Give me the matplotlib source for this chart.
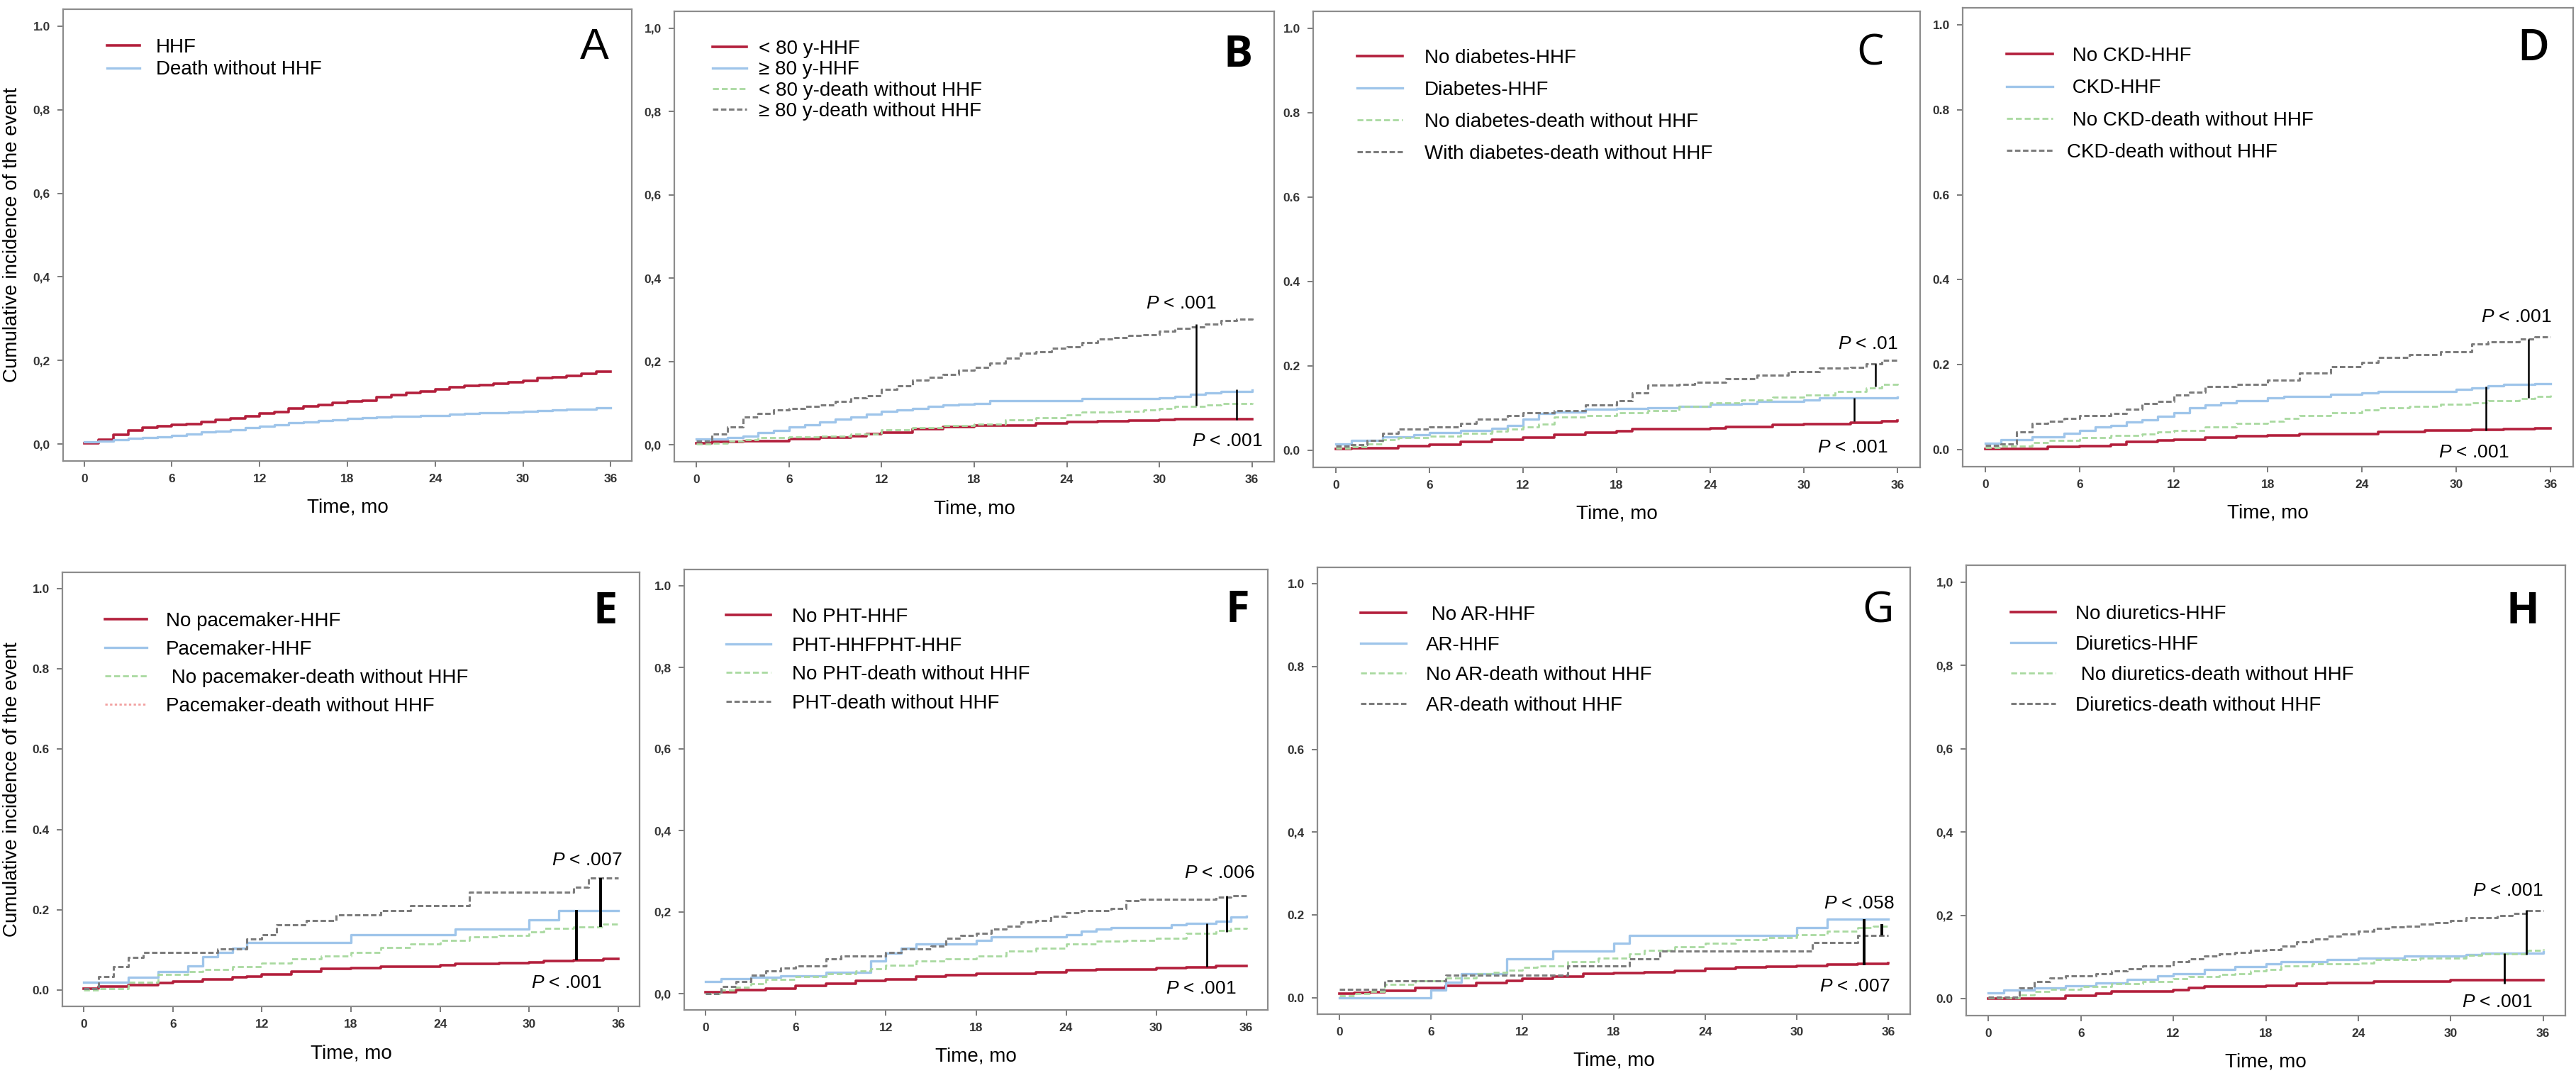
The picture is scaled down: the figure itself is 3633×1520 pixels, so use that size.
import matplotlib
matplotlib.use('Agg')
import matplotlib.pyplot as plt
from matplotlib.lines import Line2D

plt.rcParams['font.family'] = ['Liberation Sans', 'DejaVu Sans']
plt.rcParams['mathtext.fontset'] = 'custom'
plt.rcParams['mathtext.it'] = 'Liberation Sans:italic'
plt.rcParams['mathtext.rm'] = 'Liberation Sans'

# ---------------- data (months, cumulative incidence) ----------------
months = list(range(37))

# A
a_hhf_t = months
a_hhf_y = [0.002, 0.011, 0.022, 0.033, 0.040, 0.043, 0.046, 0.048, 0.053, 0.058, 0.062, 0.066, 0.073,
           0.077, 0.086, 0.090, 0.094, 0.099, 0.102, 0.104, 0.113, 0.117, 0.122, 0.127, 0.131, 0.136,
           0.140, 0.142, 0.145, 0.149, 0.152, 0.158, 0.160, 0.164, 0.168, 0.173, 0.174]
a_death_t = months
a_death_y = [0.006, 0.008, 0.011, 0.014, 0.016, 0.018, 0.021, 0.025, 0.030, 0.032, 0.035, 0.039, 0.043,
             0.047, 0.051, 0.054, 0.057, 0.059, 0.061, 0.063, 0.065, 0.066, 0.067, 0.068, 0.069, 0.072,
             0.074, 0.075, 0.076, 0.077, 0.079, 0.081, 0.082, 0.083, 0.084, 0.087, 0.088]

# B
b_red_t = [0, 1, 3, 6, 8, 10, 11, 12, 14, 16, 18, 22, 24, 26, 28, 30, 31, 36]
b_red_y = [0.005, 0.007, 0.010, 0.014, 0.018, 0.022, 0.026, 0.030, 0.039, 0.043, 0.047, 0.051, 0.055,
           0.057, 0.059, 0.061, 0.062, 0.062]
b_blue_t = [0, 2, 3, 4, 5, 6, 7, 8, 9, 10, 11, 12, 13, 14, 15, 16, 17, 18, 19, 25, 30, 31, 32, 33, 34, 36]
b_blue_y = [0.015, 0.018, 0.022, 0.029, 0.035, 0.043, 0.049, 0.055, 0.062, 0.068, 0.074, 0.080, 0.084,
            0.088, 0.092, 0.096, 0.098, 0.100, 0.106, 0.111, 0.113, 0.117, 0.121, 0.125, 0.129, 0.131]
b_green_t = [0, 1, 2, 3, 4, 6, 8, 10, 12, 14, 16, 18, 20, 22, 24, 25, 27, 29, 30, 31, 33, 34, 36]
b_green_y = [0.002, 0.005, 0.010, 0.013, 0.017, 0.019, 0.022, 0.027, 0.037, 0.041, 0.047, 0.050, 0.060,
             0.066, 0.072, 0.079, 0.081, 0.084, 0.088, 0.092, 0.096, 0.100, 0.101]
b_gray_t = months
b_gray_y = [0.010, 0.026, 0.043, 0.068, 0.076, 0.084, 0.088, 0.092, 0.096, 0.105, 0.113, 0.119, 0.133,
            0.142, 0.156, 0.162, 0.169, 0.179, 0.187, 0.197, 0.208, 0.220, 0.224, 0.232, 0.236, 0.246,
            0.254, 0.257, 0.263, 0.265, 0.273, 0.279, 0.284, 0.290, 0.298, 0.302, 0.305]

# C
c_red_t = [0, 1, 2, 4, 6, 8, 10, 12, 14, 16, 18, 19, 24, 25, 28, 30, 33, 35, 36]
c_red_y = [0.003, 0.005, 0.006, 0.010, 0.014, 0.020, 0.026, 0.030, 0.037, 0.042, 0.046, 0.050, 0.052,
           0.056, 0.060, 0.062, 0.066, 0.070, 0.071]
c_blue_t = [0, 1, 3, 5, 6, 8, 10, 11, 12, 13, 14, 16, 18, 20, 22, 24, 26, 27, 30, 31, 36]
c_blue_y = [0.015, 0.024, 0.032, 0.038, 0.042, 0.048, 0.053, 0.059, 0.075, 0.087, 0.091, 0.097, 0.099,
            0.101, 0.104, 0.110, 0.112, 0.116, 0.120, 0.124, 0.126]
c_green_t = [0, 1, 2, 3, 4, 6, 8, 10, 11, 12, 13, 14, 16, 18, 20, 22, 24, 26, 28, 30, 32, 34, 35, 36]
c_green_y = [0.005, 0.008, 0.015, 0.025, 0.030, 0.034, 0.040, 0.045, 0.050, 0.055, 0.063, 0.079, 0.083,
             0.089, 0.094, 0.104, 0.113, 0.120, 0.126, 0.132, 0.140, 0.148, 0.156, 0.160]
c_gray_t = [0, 1, 2, 3, 4, 6, 8, 9, 11, 12, 14, 16, 18, 19, 20, 22, 23, 25, 27, 29, 31, 33, 34, 35, 36]
c_gray_y = [0.010, 0.013, 0.024, 0.040, 0.050, 0.056, 0.064, 0.075, 0.083, 0.089, 0.095, 0.108, 0.118,
            0.136, 0.154, 0.156, 0.162, 0.170, 0.178, 0.187, 0.195, 0.197, 0.205, 0.214, 0.214]

# D
d_red_t = [0, 4, 6, 8, 9, 11, 12, 14, 16, 18, 20, 25, 28, 31, 33, 35, 36]
d_red_y = [0.002, 0.006, 0.008, 0.012, 0.018, 0.022, 0.024, 0.028, 0.032, 0.034, 0.037, 0.041, 0.045,
           0.046, 0.049, 0.050, 0.050]
d_blue_t = [0, 1, 3, 5, 6, 7, 8, 9, 10, 11, 12, 13, 14, 15, 16, 18, 19, 22, 24, 25, 30, 31, 32, 33, 35, 36]
d_blue_y = [0.015, 0.024, 0.030, 0.038, 0.045, 0.053, 0.057, 0.065, 0.071, 0.079, 0.087, 0.098, 0.106,
            0.111, 0.116, 0.122, 0.126, 0.130, 0.134, 0.137, 0.142, 0.146, 0.150, 0.153, 0.156, 0.156]
d_green_t = [0, 1, 3, 4, 6, 8, 10, 11, 12, 14, 16, 18, 19, 20, 22, 24, 25, 27, 29, 31, 32, 34, 35, 36]
d_green_y = [0.005, 0.008, 0.016, 0.022, 0.028, 0.033, 0.037, 0.041, 0.045, 0.053, 0.061, 0.067, 0.073,
             0.081, 0.087, 0.093, 0.098, 0.102, 0.107, 0.110, 0.115, 0.120, 0.126, 0.128]
d_gray_t = [0, 1, 2, 3, 4, 5, 6, 8, 9, 10, 11, 12, 13, 14, 16, 18, 20, 22, 24, 25, 27, 29, 31, 32, 34, 35, 36]
d_gray_y = [0.010, 0.014, 0.041, 0.061, 0.067, 0.073, 0.081, 0.085, 0.095, 0.108, 0.114, 0.128, 0.136,
            0.149, 0.154, 0.163, 0.181, 0.195, 0.206, 0.217, 0.224, 0.230, 0.248, 0.254, 0.260, 0.266, 0.266]

# E
e_red_t = [0, 1, 3, 5, 6, 8, 10, 11, 12, 14, 16, 18, 20, 24, 25, 28, 30, 31, 33, 35, 36]
e_red_y = [0.005, 0.010, 0.013, 0.019, 0.021, 0.027, 0.032, 0.034, 0.039, 0.047, 0.053, 0.056, 0.058,
           0.062, 0.066, 0.067, 0.070, 0.073, 0.075, 0.079, 0.079]
e_blue_t = [0, 3, 5, 7, 8, 9, 10, 11, 18, 25, 30, 32, 36]
e_blue_y = [0.020, 0.032, 0.047, 0.060, 0.084, 0.094, 0.104, 0.118, 0.139, 0.152, 0.176, 0.199, 0.199]
e_green_t = [0, 1, 3, 5, 7, 8, 10, 12, 14, 16, 18, 20, 22, 24, 26, 28, 30, 31, 33, 35, 36]
e_green_y = [0.000, 0.005, 0.020, 0.039, 0.047, 0.051, 0.058, 0.067, 0.079, 0.086, 0.094, 0.107, 0.116,
             0.124, 0.133, 0.137, 0.146, 0.154, 0.158, 0.164, 0.166]
e_gray_t = [0, 1, 2, 3, 4, 9, 11, 12, 13, 15, 17, 20, 22, 26, 33, 34, 36]
e_gray_y = [0.005, 0.034, 0.058, 0.081, 0.094, 0.103, 0.128, 0.139, 0.163, 0.173, 0.187, 0.199, 0.210,
            0.245, 0.257, 0.279, 0.279]

# F
f_red_t = [0, 2, 4, 6, 8, 10, 12, 14, 16, 18, 22, 24, 26, 30, 32, 34, 36]
f_red_y = [0.003, 0.008, 0.013, 0.019, 0.025, 0.031, 0.035, 0.042, 0.046, 0.049, 0.052, 0.057, 0.059,
           0.063, 0.065, 0.068, 0.068]
f_blue_t = [0, 1, 3, 5, 8, 11, 12, 13, 14, 18, 19, 24, 25, 26, 27, 31, 32, 34, 35, 36]
f_blue_y = [0.030, 0.036, 0.040, 0.044, 0.052, 0.080, 0.099, 0.111, 0.122, 0.131, 0.139, 0.145, 0.153,
            0.158, 0.162, 0.169, 0.173, 0.177, 0.187, 0.190]
f_green_t = [0, 1, 2, 3, 4, 6, 8, 10, 11, 12, 14, 16, 18, 20, 22, 24, 26, 28, 30, 32, 34, 35, 36]
f_green_y = [0.000, 0.008, 0.015, 0.025, 0.034, 0.042, 0.049, 0.055, 0.061, 0.069, 0.080, 0.086, 0.093,
             0.105, 0.111, 0.122, 0.128, 0.131, 0.135, 0.148, 0.154, 0.160, 0.162]
f_gray_t = [0, 1, 2, 3, 4, 5, 6, 8, 9, 12, 13, 15, 16, 17, 18, 19, 20, 21, 22, 23, 24, 25, 27, 28, 29, 34, 35, 36]
f_gray_y = [0.000, 0.017, 0.030, 0.046, 0.055, 0.063, 0.068, 0.086, 0.093, 0.101, 0.110, 0.116, 0.135,
            0.142, 0.148, 0.159, 0.165, 0.176, 0.179, 0.190, 0.198, 0.204, 0.208, 0.228, 0.232, 0.236,
            0.240, 0.240]

# G
g_red_t = [0, 1, 2, 3, 5, 7, 9, 11, 12, 14, 16, 18, 20, 22, 24, 26, 28, 30, 32, 34, 36]
g_red_y = [0.010, 0.012, 0.014, 0.017, 0.023, 0.029, 0.036, 0.040, 0.046, 0.051, 0.057, 0.059, 0.062,
           0.065, 0.069, 0.073, 0.075, 0.077, 0.080, 0.081, 0.083]
g_blue_t = [0, 6, 7, 8, 11, 14, 18, 19, 30, 32, 36]
g_blue_y = [0.000, 0.019, 0.038, 0.057, 0.094, 0.112, 0.131, 0.150, 0.169, 0.189, 0.189]
g_green_t = [0, 1, 2, 3, 5, 7, 9, 10, 11, 12, 13, 15, 17, 19, 20, 22, 24, 26, 28, 30, 32, 34, 35, 36]
g_green_y = [0.005, 0.010, 0.015, 0.032, 0.040, 0.048, 0.057, 0.062, 0.067, 0.073, 0.077, 0.087, 0.096,
             0.106, 0.115, 0.123, 0.131, 0.140, 0.145, 0.152, 0.160, 0.169, 0.173, 0.178]
g_gray_t = [0, 3, 7, 15, 19, 21, 31, 34, 36]
g_gray_y = [0.020, 0.040, 0.055, 0.077, 0.094, 0.112, 0.134, 0.150, 0.150]

# H
h_red_t = [0, 5, 7, 8, 12, 13, 14, 18, 20, 22, 25, 30, 36]
h_red_y = [0.000, 0.007, 0.012, 0.017, 0.022, 0.026, 0.030, 0.032, 0.036, 0.038, 0.042, 0.045, 0.045]
h_blue_t = [0, 1, 3, 5, 7, 9, 11, 12, 14, 16, 18, 19, 22, 24, 27, 31, 32, 36]
h_blue_y = [0.015, 0.022, 0.027, 0.032, 0.038, 0.046, 0.055, 0.061, 0.071, 0.078, 0.084, 0.089, 0.094,
            0.098, 0.103, 0.106, 0.110, 0.113]
h_green_t = [0, 2, 3, 4, 6, 8, 10, 12, 13, 15, 16, 17, 18, 19, 21, 24, 25, 28, 31, 32, 35, 36]
h_green_y = [0.003, 0.009, 0.017, 0.023, 0.030, 0.036, 0.042, 0.048, 0.053, 0.059, 0.061, 0.067, 0.071,
             0.079, 0.084, 0.086, 0.094, 0.098, 0.104, 0.108, 0.117, 0.120]
h_gray_t = [0, 2, 3, 4, 5, 7, 8, 9, 10, 12, 13, 14, 15, 16, 17, 18, 19, 20, 21, 22, 23, 24, 25, 26, 27,
            28, 29, 30, 31, 33, 34, 35, 36]
h_gray_y = [0.005, 0.026, 0.042, 0.050, 0.056, 0.061, 0.067, 0.073, 0.079, 0.089, 0.096, 0.103, 0.108,
            0.112, 0.117, 0.119, 0.127, 0.137, 0.144, 0.150, 0.156, 0.162, 0.169, 0.172, 0.174, 0.179,
            0.183, 0.188, 0.195, 0.199, 0.205, 0.212, 0.212]

# legend labels
labels_a = ['HHF', 'Death without HHF']
labels_b = ['< 80 y-HHF', '\u2265 80 y-HHF', '< 80 y-death without HHF', '\u2265 80 y-death without HHF']
labels_c = ['No diabetes-HHF', 'Diabetes-HHF', 'No diabetes-death without HHF', 'With diabetes-death without HHF']
labels_d = [' No CKD-HHF', ' CKD-HHF', ' No CKD-death without HHF', 'CKD-death without HHF']
labels_e = ['No pacemaker-HHF', 'Pacemaker-HHF', ' No pacemaker-death without HHF', 'Pacemaker-death without HHF']
labels_f = ['No PHT-HHF', 'PHT-HHFPHT-HHF', 'No PHT-death without HHF', 'PHT-death without HHF']
labels_g = [' No AR-HHF', 'AR-HHF', 'No AR-death without HHF', 'AR-death without HHF']
labels_h = ['No diuretics-HHF', 'Diuretics-HHF', ' No diuretics-death without HHF', 'Diuretics-death without HHF']

# P-value brackets: (month, top, bottom) and labels: (month, y, text)
p_lines_b = [(32.4, 0.290, 0.095), (35.0, 0.133, 0.060)]
p_text_b = [(31.4, 0.339, '.001'), (34.4, 0.010, '.001')]
p_lines_c = [(34.6, 0.205, 0.152), (33.2, 0.124, 0.070)]
p_text_c = [(34.1, 0.252, '.01'), (33.1, 0.007, '.001')]
p_lines_d = [(34.6, 0.260, 0.122), (31.9, 0.148, 0.045)]
p_text_d = [(33.8, 0.313, '.001'), (31.1, -0.006, '.001')]
p_lines_e = [(34.8, 0.279, 0.158), (33.2, 0.200, 0.074)]
p_text_e = [(33.9, 0.323, '.007'), (32.5, 0.018, '.001')]
p_lines_f = [(34.7, 0.240, 0.152), (33.4, 0.172, 0.066)]
p_text_f = [(34.2, 0.295, '.006'), (33.0, 0.013, '.001')]
p_lines_g = [(34.4, 0.189, 0.078), (35.6, 0.178, 0.150)]
p_text_g = [(34.1, 0.227, '.058'), (33.8, 0.027, '.007')]
p_lines_h = [(34.9, 0.213, 0.107), (33.5, 0.110, 0.037)]
p_text_h = [(33.7, 0.260, '.001'), (33.0, -0.007, '.001')]

yt_dot = ['0.0', '0.2', '0.4', '0.6', '0.8', '1.0']
yt_comma = ['0,0', '0,2', '0,4', '0,6', '0,8', '1,0']

# ---------------- styles ----------------
RED = '#b31f3c'
BLUE = '#9fc5ea'
GREEN = '#a9d9a0'
GRAY = '#7c7c7c'
PINK = '#f2a0a0'

sty_red = dict(color=RED, lw=2.6, ls='-')
sty_blue = dict(color=BLUE, lw=2.4, ls='-')
sty_green = dict(color=GREEN, lw=2.0, ls=(0, (3, 1.5)))
sty_gray = dict(color=GRAY, lw=2.2, ls=(0, (2.5, 1.2)))
sty_pink = dict(color=PINK, lw=2.0, ls=(0, (1.2, 1.2)))

W, H = 3633, 1520
fig = plt.figure(figsize=(W / 100, H / 100), dpi=100)

panels = [
    dict(letter='A', box=(89, 13, 891, 650),
         curves=[(a_hhf_t, a_hhf_y, sty_red), (a_death_t, a_death_y, sty_blue)],
         labels=labels_a, handles=[sty_red, sty_blue],
         yt=['0,0', '0,2', '0,4', '0,6', '0,8', '1.0'], plines=[], ptext=[], plw=2,
         leg=(151, 68, 33, 46, 23), let=(0.934, 0.086, 'normal', 'Liberation Sans'), ylab=True),
    dict(letter='B', box=(951, 16, 1797, 651),
         curves=[(b_red_t, b_red_y, sty_red), (b_blue_t, b_blue_y, sty_blue),
                 (b_green_t, b_green_y, sty_green), (b_gray_t, b_gray_y, sty_gray)],
         labels=labels_b, handles=[sty_red, sty_blue, sty_green, sty_gray],
         yt=yt_comma, plines=p_lines_b, ptext=p_text_b, plw=1.8,
         leg=(1005, 70, 31, 48, 17), let=(0.94, 0.098, 'bold', 'Open Sans'), ylab=False),
    dict(letter='C', box=(1852, 16, 2708, 659),
         curves=[(c_red_t, c_red_y, sty_red), (c_blue_t, c_blue_y, sty_blue),
                 (c_green_t, c_green_y, sty_green), (c_gray_t, c_gray_y, sty_gray)],
         labels=labels_c, handles=[sty_red, sty_blue, sty_green, sty_gray],
         yt=yt_dot, plines=p_lines_c, ptext=p_text_c, plw=1.8,
         leg=(1914, 83, 46.7, 64, 31), let=(0.918, 0.092, 'normal', 'Open Sans'), ylab=False),
    dict(letter='D', box=(2768, 11, 3629, 658),
         curves=[(d_red_t, d_red_y, sty_red), (d_blue_t, d_blue_y, sty_blue),
                 (d_green_t, d_green_y, sty_green), (d_gray_t, d_gray_y, sty_gray)],
         labels=labels_d, handles=[sty_red, sty_blue, sty_green, sty_gray],
         yt=yt_dot, plines=p_lines_d, ptext=p_text_d, plw=1.8,
         leg=(2830, 80, 47, 65, 20), let=(0.935, 0.089, 'semibold', 'Open Sans'), ylab=False),
    dict(letter='E', box=(88, 807, 902, 1419),
         curves=[(e_red_t, e_red_y, sty_red), (e_blue_t, e_blue_y, sty_blue),
                 (e_green_t, e_green_y, sty_green), (e_gray_t, e_gray_y, sty_gray)],
         labels=labels_e, handles=[sty_red, sty_blue, sty_green, sty_pink],
         yt=yt_dot, plines=p_lines_e, ptext=p_text_e, plw=2.8,
         leg=(148, 877, 41.7, 59, 27), let=(0.94, 0.093, 'bold', 'Open Sans'), ylab=True),
    dict(letter='F', box=(965, 803, 1788, 1424),
         curves=[(f_red_t, f_red_y, sty_red), (f_blue_t, f_blue_y, sty_blue),
                 (f_green_t, f_green_y, sty_green), (f_gray_t, f_gray_y, sty_gray)],
         labels=labels_f, handles=[sty_red, sty_blue, sty_green, sty_gray],
         yt=['0,0', '0,2', '0,4', '0,6', '0,8', '1.0'], plines=p_lines_f, ptext=p_text_f, plw=2.0,
         leg=(1024, 871, 42.3, 63, 30), let=(0.948, 0.095, 'bold', 'Open Sans'), ylab=False),
    dict(letter='G', box=(1858, 800, 2694, 1430),
         curves=[(g_red_t, g_red_y, sty_red), (g_blue_t, g_blue_y, sty_blue),
                 (g_green_t, g_green_y, sty_green), (g_gray_t, g_gray_y, sty_gray)],
         labels=labels_g, handles=[sty_red, sty_blue, sty_green, sty_gray],
         yt=['0.0', '0.2', '0,4', '0.6', '0.8', '1.0'], plines=p_lines_g, ptext=p_text_g, plw=2.8,
         leg=(1919, 868, 44.3, 64, 28), let=(0.946, 0.098, 'normal', 'Open Sans'), ylab=False),
    dict(letter='H', box=(2773, 797, 3618, 1432),
         curves=[(h_red_t, h_red_y, sty_red), (h_blue_t, h_blue_y, sty_blue),
                 (h_green_t, h_green_y, sty_green), (h_gray_t, h_gray_y, sty_gray)],
         labels=labels_h, handles=[sty_red, sty_blue, sty_green, sty_gray],
         yt=['0.0', '0,2', '0,4', '0,6', '0,8', '1,0'], plines=p_lines_h, ptext=p_text_h, plw=2.0,
         leg=(2836, 867, 44.7, 63, 28), let=(0.929, 0.105, 'bold', 'Open Sans'), ylab=False),
]

LEG_PT = 20
leg_px = LEG_PT * 100 / 72

for p in panels:
    x0, y0, x1, y1 = p['box']
    bw, bh = x1 - x0, y1 - y0
    ax = fig.add_axes([x0 / W, 1 - y1 / H, bw / W, bh / H])
    for t, y, s in p['curves']:
        ax.step(t, y, where='post', **s)
    for t, top, bot in p['plines']:
        ax.plot([t, t], [bot, top], color='black', lw=p['plw'], solid_capstyle='butt')
    for t, y, txt in p['ptext']:
        ax.text(t, y, r'$P$ < ' + txt, fontsize=19, ha='center', va='center', color='black')

    ax.set_xlim(-1.44, 37.44)
    ax.set_ylim(-0.04, 1.04)
    ax.set_xticks(range(0, 37, 6))
    ax.set_yticks([0, 0.2, 0.4, 0.6, 0.8, 1.0])
    ax.set_yticklabels(p['yt'])
    ax.tick_params(direction='out', length=6, width=1.3, color='#707070', labelsize=12.5,
                   labelcolor='#333333', pad=7)
    for lbl in ax.get_xticklabels() + ax.get_yticklabels():
        lbl.set_fontweight('bold')
    for sp in ax.spines.values():
        sp.set_color('#8c8c8c')
        sp.set_linewidth(1.6)

    ax.set_xlabel('Time, mo', fontsize=20)
    ax.xaxis.set_label_coords(0.5, -66 / bh)
    ax.xaxis.label.set_va('center')
    if p['ylab']:
        ax.set_ylabel('Cumulative incidence of the event', fontsize=20)
        ax.yaxis.set_label_coords((17 - x0) / bw, 0.5)
        ax.yaxis.label.set_va('center')

    hx, ry, sp_px, hl_px, pad_px = p['leg']
    handles = [Line2D([0], [0], **s) for s in p['handles']]
    ax.legend(handles, p['labels'], loc='upper left', frameon=False, fontsize=LEG_PT,
              bbox_to_anchor=((hx - x0) / bw, 1 - (ry - y0 - 0.5 * leg_px) / bh),
              borderpad=0, borderaxespad=0,
              handlelength=hl_px / leg_px, handletextpad=pad_px / leg_px,
              labelspacing=max(0.0, (sp_px - 1.0 * leg_px) / leg_px))

    lx, ly, lw_, lf = p['let']
    ax.text(lx, 1 - ly, p['letter'], transform=ax.transAxes, fontsize=44, fontweight=lw_,
            family=[lf, 'DejaVu Sans'], ha='center', va='center')

fig.savefig('out.png', dpi=100)
